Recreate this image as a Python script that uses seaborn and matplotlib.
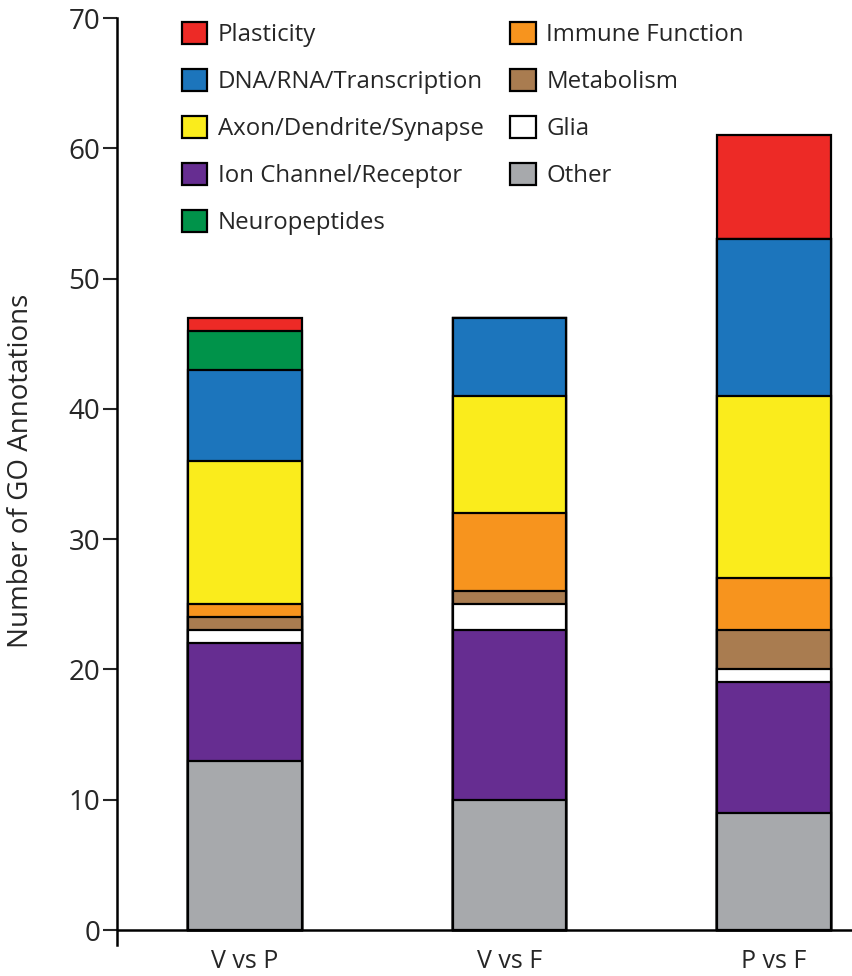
import matplotlib
matplotlib.use("Agg")
import matplotlib.pyplot as plt
import seaborn as sns
import numpy as np
from matplotlib.patches import Patch

sns.set_style("white")
plt.rcParams['font.family'] = ['Open Sans', 'DejaVu Sans']

# data
groups = ['V vs P', 'V vs F', 'P vs F']
# stacking order bottom -> top
categories = ['Other', 'Ion Channel/Receptor', 'Glia', 'Metabolism', 'Immune Function',
              'Axon/Dendrite/Synapse', 'DNA/RNA/Transcription', 'Neuropeptides', 'Plasticity']
other = [13, 10, 9]
ion_channel = [9, 13, 10]
glia = [1, 2, 1]
metabolism = [1, 1, 3]
immune = [1, 6, 4]
axon = [11, 9, 14]
dna = [7, 6, 12]
neuropeptides = [3, 0, 0]
plasticity = [1, 0, 8]

colors = {
    'Plasticity': '#ED2A26',
    'DNA/RNA/Transcription': '#1C75BC',
    'Axon/Dendrite/Synapse': '#FAEC1C',
    'Ion Channel/Receptor': '#662D91',
    'Neuropeptides': '#00934A',
    'Immune Function': '#F7941E',
    'Metabolism': '#A97C50',
    'Glia': '#FFFFFF',
    'Other': '#A7A9AC',
}
legend_order = ['Plasticity', 'DNA/RNA/Transcription', 'Axon/Dendrite/Synapse',
                'Ion Channel/Receptor', 'Neuropeptides',
                'Immune Function', 'Metabolism', 'Glia', 'Other']

series = [other, ion_channel, glia, metabolism, immune, axon, dna, neuropeptides, plasticity]
cum = np.cumsum(np.array(series), axis=0)

fig = plt.figure(figsize=(8.53, 9.76), dpi=100)
ax = fig.add_axes([117/853, 1-945/976, 1-117/853, 927/976])

# draw the cumulative totals from the top layer down so each layer covers the one above it
for i in range(len(categories)-1, -1, -1):
    vals = cum[i]
    sns.barplot(x=groups, y=vals, color=colors[categories[i]], edgecolor='black',
                linewidth=1.6, width=0.43, saturation=1, ax=ax)

ax.set_ylim(-1.15, 70)
ax.set_xlim(-0.484, 2.299)
ax.set_yticks(range(0, 71, 10))
ax.tick_params(axis='y', direction='out', length=10, width=1.5, labelsize=20, pad=2, left=True)
ax.tick_params(axis='x', length=0, labelsize=18, pad=3)
for s in ['top', 'right', 'bottom']:
    ax.spines[s].set_visible(False)
ax.spines['left'].set_linewidth(1.8)
ax.spines['left'].set_color('black')
ax.axhline(0, color='black', lw=1.8, zorder=5)

ax.set_ylabel('Number of GO Annotations', fontsize=20)
ax.yaxis.set_label_coords(-(117-35)/736, 0.512)
ax.set_xlabel('')

handles = [Patch(facecolor=colors[c], edgecolor='black', linewidth=1.6) for c in legend_order]
fig.legend(handles, legend_order, loc='upper left', bbox_to_anchor=(182/853, 1-22/976),
           ncol=2, frameon=False, fontsize=17.3, handlelength=1.05, handleheight=1.05,
           handletextpad=0.45, labelspacing=0.9, columnspacing=1.1, borderpad=0,
           borderaxespad=0)

fig.savefig('out.png', dpi=100)
